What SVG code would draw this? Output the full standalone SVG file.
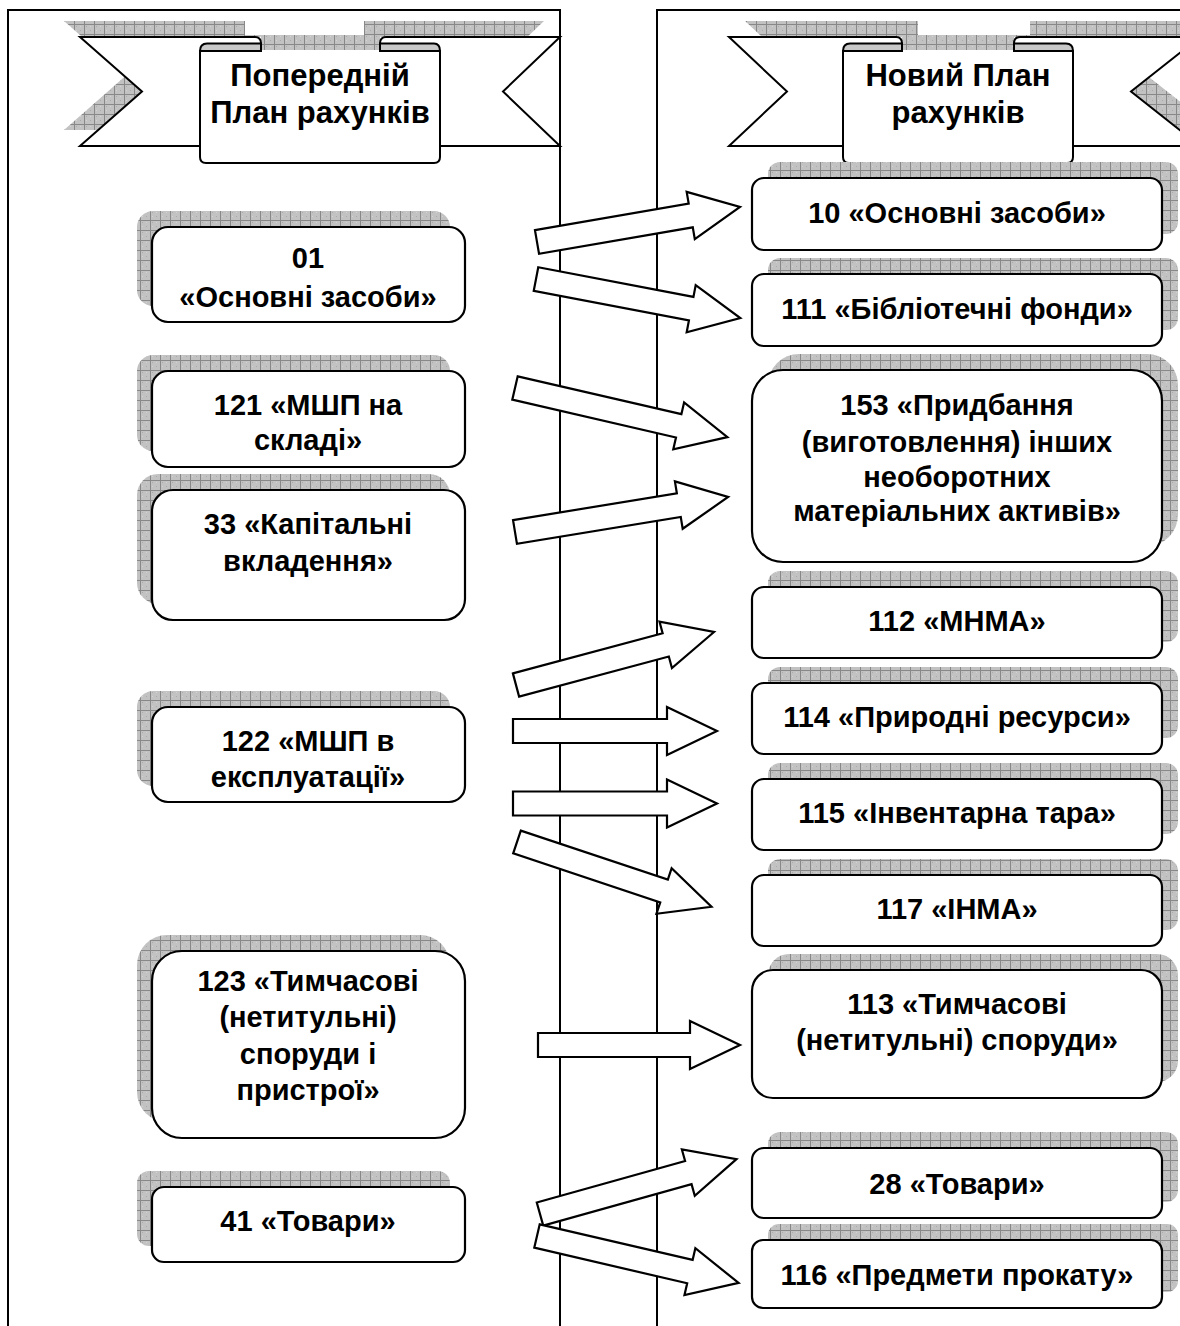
<svg xmlns="http://www.w3.org/2000/svg" width="1180" height="1326" viewBox="0 0 1180 1326">
  <defs>
    <!-- checkered grey fill used for all drop shadows -->
    <pattern id="grid" width="10" height="10" patternUnits="userSpaceOnUse">
      <rect width="10" height="10" fill="#c2c2c2"/>
      <rect x="2" y="2" width="1" height="1" fill="#aaaaaa"/>
      <rect x="6" y="6" width="1" height="1" fill="#aaaaaa"/>
      <rect x="6" y="2" width="1" height="1" fill="#d4d4d4"/>
      <rect x="2" y="6" width="1" height="1" fill="#d4d4d4"/>
      <path d="M0.5 0 V10 M0 0.5 H10" stroke="#888888" stroke-width="1"/>
    </pattern>
    <style>
      .panel { fill: none; stroke: #000; stroke-width: 2; }
      .shadow { fill: url(#grid); stroke: none; }
      .box { fill: #fff; stroke: #000; stroke-width: 2.2; }
      .ribbon { fill: #fff; stroke: none; }
      .edge { fill: none; stroke: #000; stroke-width: 2; stroke-linejoin: miter; }
      .face { fill: #fff; stroke: #000; stroke-width: 2; }
      .roll { fill: #c8c8c8; stroke: #000; stroke-width: 2; }
      .arrow { fill: #fff; stroke: #000; stroke-width: 2.2; stroke-linejoin: miter; }
      text { font-family: "Liberation Sans", Arial, sans-serif; font-weight: bold; fill: #000; text-anchor: middle; }
      .t { font-size: 29px; }
      .h { font-size: 31px; }
    </style>
  </defs>

  <rect width="1180" height="1326" fill="#fff"/>

  <!-- column frames -->
  <g id="frames">
    <path class="panel" d="M8 1340 V10 H560 V1340"/>
    <path class="panel" d="M1200 10 H657 V1340"/>
  </g>

  <!-- left heading ribbon -->
  <g id="heading-old">
    <path class="shadow" transform="translate(-16,-16)" d="M80 37 H261 V51 H380 V37 H560 L503 91.5 L560 146 H440 V157 Q440 163 434 163 H206 Q200 163 200 157 V146 H80 L142 91.5 Z"/>
    <path class="ribbon" d="M80 37 H261 V51 H380 V37 H560 L503 91.5 L560 146 H440 V157 Q440 163 434 163 H206 Q200 163 200 157 V146 H80 L142 91.5 Z"/>
    <path class="edge" d="M200 146 H80 L142 91.5 L80 37 H255 Q261 37 261 43.5"/>
    <path class="edge" d="M440 146 H560 L503 91.5 L560 37 H386 Q380 37 380 43.5"/>
    <path class="face" d="M200 50 V157 Q200 163 206 163 H434 Q440 163 440 157 V50"/>
    <path class="roll" d="M200 51 C200 46 202 43.5 207 43.5 H261 V51 Z"/>
    <path class="roll" d="M380 51 V43.5 H434 C438 43.5 440 46 440 51 Z"/>
    <text class="h" x="320" y="86">Попередній</text>
    <text class="h" x="320" y="123">План рахунків</text>
  </g>

  <!-- right heading ribbon -->
  <g id="heading-new">
    <path class="shadow" transform="translate(16,-16)" d="M729 37 H902 V51 H1014 V37 H1200 L1131 91.5 L1200 146 H1073 V157 Q1073 163 1067 163 H849 Q843 163 843 157 V146 H729 L787 91.5 Z"/>
    <path class="ribbon" d="M729 37 H902 V51 H1014 V37 H1200 L1131 91.5 L1200 146 H1073 V157 Q1073 163 1067 163 H849 Q843 163 843 157 V146 H729 L787 91.5 Z"/>
    <path class="edge" d="M843 146 H729 L787 91.5 L729 37 H896 Q902 37 902 43.5"/>
    <path class="edge" d="M1073 146 H1200 L1131 91.5 L1200 37 H1020 Q1014 37 1014 43.5"/>
    <path class="face" d="M843 50 V157 Q843 163 849 163 H1067 Q1073 163 1073 157 V50"/>
    <path class="roll" d="M843 51 C843 46 845 43.5 850 43.5 H902 V51 Z"/>
    <path class="roll" d="M1014 51 V43.5 H1066 C1071 43.5 1073 46 1073 51 Z"/>
    <text class="h" x="958" y="86">Новий План</text>
    <text class="h" x="958" y="123">рахунків</text>
  </g>

  <!-- previous chart of accounts -->
  <g id="old-01">
    <rect class="shadow" x="137" y="211" width="313" height="95" rx="16"/>
    <rect class="box" x="152" y="227" width="313" height="95" rx="16"/>
    <text class="t" x="308" y="268">01</text>
    <text class="t" x="308" y="307">«Основні засоби»</text>
  </g>
  <g id="old-121">
    <rect class="shadow" x="137" y="355" width="313" height="96" rx="16"/>
    <rect class="box" x="152" y="371" width="313" height="96" rx="16"/>
    <text class="t" x="308" y="415">121 «МШП на</text>
    <text class="t" x="308" y="450">складі»</text>
  </g>
  <g id="old-33">
    <rect class="shadow" x="137" y="474" width="313" height="130" rx="21"/>
    <rect class="box" x="152" y="490" width="313" height="130" rx="21"/>
    <text class="t" x="308" y="534">33 «Капітальні</text>
    <text class="t" x="308" y="571">вкладення»</text>
  </g>
  <g id="old-122">
    <rect class="shadow" x="137" y="691" width="313" height="95" rx="16"/>
    <rect class="box" x="152" y="707" width="313" height="95" rx="16"/>
    <text class="t" x="308" y="751">122 «МШП в</text>
    <text class="t" x="308" y="787">експлуатації»</text>
  </g>
  <g id="old-123">
    <rect class="shadow" x="137" y="935" width="313" height="187" rx="30"/>
    <rect class="box" x="152" y="951" width="313" height="187" rx="30"/>
    <text class="t" x="308" y="991">123 «Тимчасові</text>
    <text class="t" x="308" y="1027">(нетитульні)</text>
    <text class="t" x="308" y="1064">споруди і</text>
    <text class="t" x="308" y="1100">пристрої»</text>
  </g>
  <g id="old-41">
    <rect class="shadow" x="137" y="1171" width="313" height="75" rx="12"/>
    <rect class="box" x="152" y="1187" width="313" height="75" rx="12"/>
    <text class="t" x="308" y="1231">41 «Товари»</text>
  </g>

  <!-- new chart of accounts -->
  <g id="new-10">
    <rect class="shadow" x="768" y="162" width="410" height="72" rx="12"/>
    <rect class="box" x="752" y="178" width="410" height="72" rx="12"/>
    <text class="t" x="957" y="223">10 «Основні засоби»</text>
  </g>
  <g id="new-111">
    <rect class="shadow" x="768" y="258" width="410" height="72" rx="12"/>
    <rect class="box" x="752" y="274" width="410" height="72" rx="12"/>
    <text class="t" x="957" y="319">111 «Бібліотечні фонди»</text>
  </g>
  <g id="new-153">
    <rect class="shadow" x="768" y="354" width="410" height="192" rx="31"/>
    <rect class="box" x="752" y="370" width="410" height="192" rx="31"/>
    <text class="t" x="957" y="415">153 «Придбання</text>
    <text class="t" x="957" y="452">(виготовлення) інших</text>
    <text class="t" x="957" y="487">необоротних</text>
    <text class="t" x="957" y="521">матеріальних активів»</text>
  </g>
  <g id="new-112">
    <rect class="shadow" x="768" y="571" width="410" height="71" rx="12"/>
    <rect class="box" x="752" y="587" width="410" height="71" rx="12"/>
    <text class="t" x="957" y="631">112 «МНМА»</text>
  </g>
  <g id="new-114">
    <rect class="shadow" x="768" y="667" width="410" height="71" rx="12"/>
    <rect class="box" x="752" y="683" width="410" height="71" rx="12"/>
    <text class="t" x="957" y="727">114 «Природні ресурси»</text>
  </g>
  <g id="new-115">
    <rect class="shadow" x="768" y="763" width="410" height="71" rx="12"/>
    <rect class="box" x="752" y="779" width="410" height="71" rx="12"/>
    <text class="t" x="957" y="823">115 «Інвентарна тара»</text>
  </g>
  <g id="new-117">
    <rect class="shadow" x="768" y="859" width="410" height="71" rx="12"/>
    <rect class="box" x="752" y="875" width="410" height="71" rx="12"/>
    <text class="t" x="957" y="919">117 «ІНМА»</text>
  </g>
  <g id="new-113">
    <rect class="shadow" x="768" y="954" width="410" height="128" rx="21"/>
    <rect class="box" x="752" y="970" width="410" height="128" rx="21"/>
    <text class="t" x="957" y="1014">113 «Тимчасові</text>
    <text class="t" x="957" y="1050">(нетитульні) споруди»</text>
  </g>
  <g id="new-28">
    <rect class="shadow" x="768" y="1132" width="410" height="70" rx="12"/>
    <rect class="box" x="752" y="1148" width="410" height="70" rx="12"/>
    <text class="t" x="957" y="1194">28 «Товари»</text>
  </g>
  <g id="new-116">
    <rect class="shadow" x="768" y="1224" width="410" height="68" rx="11"/>
    <rect class="box" x="752" y="1240" width="410" height="68" rx="11"/>
    <text class="t" x="957" y="1285">116 «Предмети прокату»</text>
  </g>

  <!-- block arrows: local shape along +x, placed by translate/rotate -->
  <g id="connectors">
    <polygon class="arrow" transform="translate(537,242) rotate(-9.78)" points="0,-12 156,-12 156,-24 206,0 156,24 156,12 0,12"/>
    <polygon class="arrow" transform="translate(536,279) rotate(10.82)" points="0,-12 158,-12 158,-24 208,0 158,24 158,12 0,12"/>
    <polygon class="arrow" transform="translate(515,388) rotate(13.01)" points="0,-12 168,-12 168,-24 218,0 168,24 168,12 0,12"/>
    <polygon class="arrow" transform="translate(515,532) rotate(-9.33)" points="0,-12 166,-12 166,-24 216,0 166,24 166,12 0,12"/>
    <polygon class="arrow" transform="translate(516,685) rotate(-14.99)" points="0,-12 155,-12 155,-24 205,0 155,24 155,12 0,12"/>
    <polygon class="arrow" transform="translate(513,731)" points="0,-12 154,-12 154,-24 204,0 154,24 154,12 0,12"/>
    <polygon class="arrow" transform="translate(513,803.5)" points="0,-12 154,-12 154,-24 204,0 154,24 154,12 0,12"/>
    <polygon class="arrow" transform="translate(517,842) rotate(18.43)" points="0,-12 155,-12 155,-24 205,0 155,24 155,12 0,12"/>
    <polygon class="arrow" transform="translate(538,1045)" points="0,-12 152,-12 152,-24 202,0 152,24 152,12 0,12"/>
    <polygon class="arrow" transform="translate(540,1214) rotate(-15.6)" points="0,-12 154,-12 154,-24 204,0 154,24 154,12 0,12"/>
    <polygon class="arrow" transform="translate(537,1236) rotate(13.1)" points="0,-12 157,-12 157,-24 207,0 157,24 157,12 0,12"/>
  </g>
</svg>
